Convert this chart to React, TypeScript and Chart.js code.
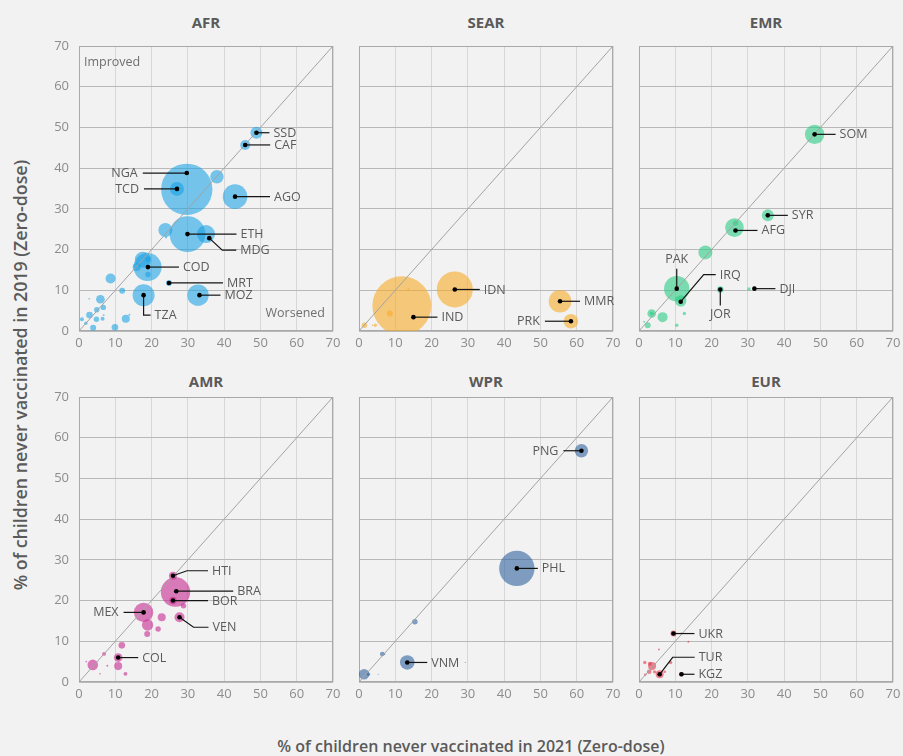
import React, { useEffect, useRef } from "react";
import { Chart, registerables } from "chart.js";

Chart.register(...registerables);

const FONT = '"Open Sans", "DejaVu Sans", sans-serif';
Chart.defaults.font.family = FONT;

type Pt = [number, number, number]; // [% zero-dose 2021, % zero-dose 2019, zero-dose children (thousands)]
type Note = { code: string; x: number; y: number; path: [number, number][]; side: "right" | "left" | "top" | "bottom" };

const AXIS_MIN = 0;
const AXIS_MAX = 70;
const AXIS_STEP = 10;

const AFR_POINTS: Pt[] = [
  [29.7, 34.8, 2050], [29.9, 23.8, 1000], [18.9, 15.7, 610], [43.0, 33.0, 470],
  [17.8, 8.8, 376], [32.8, 8.8, 356], [35.0, 23.8, 252], [17.6, 17.5, 199],
  [38.0, 37.9, 140], [23.8, 24.8, 152], [48.9, 48.7, 112], [45.8, 45.7, 78],
  [27.0, 34.9, 152], [27.0, 34.9, 20], [8.7, 12.9, 78], [11.9, 9.9, 28],
  [5.9, 7.8, 58], [6.7, 5.8, 23], [4.9, 5.2, 23], [12.9, 3.0, 50],
  [9.9, 0.9, 34], [3.9, 0.8, 28], [2.9, 3.9, 34], [4.8, 2.9, 23],
  [0.8, 2.9, 12], [1.9, 1.9, 9], [15.9, 15.7, 50], [19.0, 17.6, 23],
  [19.0, 13.9, 23], [24.0, 23.0, 4], [24.8, 11.8, 28], [13.9, 4.0, 3],
  [2.8, 7.9, 2], [6.8, 3.9, 3], [6.5, 3.0, 12],
];
const AFR_NOTES: Note[] = [
  { code: "SSD", x: 48.9, y: 48.7, path: [[13, 0]], side: "right" },
  { code: "CAF", x: 45.8, y: 45.7, path: [[25, 0]], side: "right" },
  { code: "NGA", x: 29.7, y: 38.8, path: [[-44, 0]], side: "left" },
  { code: "TCD", x: 27.0, y: 34.9, path: [[-33, 0]], side: "left" },
  { code: "AGO", x: 43.0, y: 33.0, path: [[35, 0]], side: "right" },
  { code: "ETH", x: 29.9, y: 23.8, path: [[49, 0]], side: "right" },
  { code: "MDG", x: 35.9, y: 22.8, path: [[13, 12], [27, 12]], side: "right" },
  { code: "COD", x: 19.0, y: 15.7, path: [[31, 0]], side: "right" },
  { code: "MRT", x: 24.8, y: 11.8, path: [[54, 0]], side: "right" },
  { code: "MOZ", x: 33.2, y: 8.8, path: [[21, 0]], side: "right" },
  { code: "TZA", x: 17.8, y: 8.8, path: [[0, 20], [7, 20]], side: "right" },
];

const SEAR_POINTS: Pt[] = [
  [11.8, 6.2, 2700], [26.4, 10.2, 1008], [55.4, 7.3, 397], [58.4, 2.4, 166],
  [8.5, 4.3, 28], [1.5, 1.4, 23], [4.5, 1.4, 9], [13.6, 10.3, 3], [3.7, 1.4, 2],
];
const SEAR_NOTES: Note[] = [
  { code: "IDN", x: 26.4, y: 10.2, path: [[25, 0]], side: "right" },
  { code: "IND", x: 15.0, y: 3.4, path: [[24, 0]], side: "right" },
  { code: "MMR", x: 55.4, y: 7.3, path: [[20, 0]], side: "right" },
  { code: "PRK", x: 58.4, y: 2.4, path: [[-26, 0]], side: "left" },
];

const EMR_POINTS: Pt[] = [
  [48.4, 48.3, 293], [35.5, 28.4, 112], [26.3, 25.4, 269], [26.6, 26.5, 23],
  [18.3, 19.3, 152], [10.4, 10.4, 502], [11.5, 7.4, 101], [22.4, 10.2, 34],
  [31.8, 10.4, 3], [30.3, 10.3, 9], [3.5, 4.3, 58], [3.5, 4.3, 12],
  [6.5, 3.4, 78], [12.5, 4.3, 9], [2.4, 1.4, 28], [10.4, 1.4, 9], [1.4, 2.3, 3],
];
const EMR_NOTES: Note[] = [
  { code: "SOM", x: 48.4, y: 48.3, path: [[21, 0]], side: "right" },
  { code: "SYR", x: 35.5, y: 28.4, path: [[20, 0]], side: "right" },
  { code: "AFG", x: 26.6, y: 24.7, path: [[22, 0]], side: "right" },
  { code: "PAK", x: 10.4, y: 10.4, path: [[0, -20]], side: "top" },
  { code: "IRQ", x: 11.5, y: 7.2, path: [[23, -27], [35, -27]], side: "right" },
  { code: "JOR", x: 22.4, y: 10.2, path: [[0, 16]], side: "bottom" },
  { code: "DJI", x: 31.8, y: 10.4, path: [[21, 0]], side: "right" },
];

const AMR_POINTS: Pt[] = [
  [26.6, 22.1, 672], [17.8, 17.1, 293], [25.9, 26.1, 50], [25.9, 20.0, 43],
  [27.7, 15.9, 78], [22.8, 15.9, 50], [18.9, 14.0, 101], [18.8, 11.8, 28],
  [21.8, 13.0, 23], [28.8, 18.7, 23], [11.8, 9.0, 34], [6.9, 6.9, 12],
  [10.8, 6.0, 58], [10.8, 3.9, 50], [3.8, 4.2, 87], [12.8, 2.0, 12],
  [7.8, 4.0, 3], [5.8, 2.0, 2], [2.0, 5.0, 2],
];
const AMR_NOTES: Note[] = [
  { code: "HTI", x: 25.9, y: 26.1, path: [[14, -5], [35, -5]], side: "right" },
  { code: "BRA", x: 26.8, y: 22.3, path: [[57, 0]], side: "right" },
  { code: "BOR", x: 25.9, y: 20.0, path: [[35, 0]], side: "right" },
  { code: "MEX", x: 17.8, y: 17.1, path: [[-20, 0]], side: "left" },
  { code: "VEN", x: 27.7, y: 15.9, path: [[14, 10], [29, 10]], side: "right" },
  { code: "COL", x: 10.8, y: 6.0, path: [[20, 0]], side: "right" },
];

const WPR_POINTS: Pt[] = [
  [61.3, 56.8, 140], [43.5, 27.9, 974], [13.3, 4.8, 166], [15.4, 14.8, 23],
  [6.4, 6.9, 16], [7.0, 6.9, 3], [1.4, 1.9, 87], [2.6, 1.9, 9],
  [29.3, 4.8, 1], [5.3, 1.9, 1],
];
const WPR_NOTES: Note[] = [
  { code: "PNG", x: 61.3, y: 56.8, path: [[-18, 0]], side: "left" },
  { code: "PHL", x: 43.5, y: 27.9, path: [[21, 0]], side: "right" },
  { code: "VNM", x: 13.3, y: 4.8, path: [[20, 0]], side: "right" },
];

const EUR_POINTS: Pt[] = [
  [9.5, 11.9, 28], [11.7, 1.9, 16], [5.7, 1.9, 50], [3.6, 3.9, 50],
  [2.8, 2.5, 16], [1.6, 4.8, 9], [8.7, 4.8, 9], [5.5, 8.0, 3],
  [13.6, 9.9, 3], [1.7, 1.8, 5], [4.3, 2.5, 8], [11.7, 11.9, 3],
  [7.1, 2.5, 5], [3.0, 4.5, 12],
];
const EUR_NOTES: Note[] = [
  { code: "UKR", x: 9.5, y: 11.9, path: [[21, 0]], side: "right" },
  { code: "TUR", x: 5.7, y: 1.9, path: [[13, -17], [35, -17]], side: "right" },
  { code: "KGZ", x: 11.7, y: 1.9, path: [[13, 0]], side: "right" },
];

type PanelSpec = {
  region: string;
  color: string;
  points: Pt[];
  notes: Note[];
  col: number;
  row: number;
  corners?: boolean;
};

const PANELS: PanelSpec[] = [
  { region: "AFR", color: "rgba(22,160,228,0.58)", points: AFR_POINTS, notes: AFR_NOTES, col: 0, row: 0, corners: true },
  { region: "SEAR", color: "rgba(247,170,40,0.6)", points: SEAR_POINTS, notes: SEAR_NOTES, col: 1, row: 0 },
  { region: "EMR", color: "rgba(40,204,130,0.6)", points: EMR_POINTS, notes: EMR_NOTES, col: 2, row: 0 },
  { region: "AMR", color: "rgba(200,42,145,0.6)", points: AMR_POINTS, notes: AMR_NOTES, col: 0, row: 1 },
  { region: "WPR", color: "rgba(47,99,159,0.6)", points: WPR_POINTS, notes: WPR_NOTES, col: 1, row: 1 },
  { region: "EUR", color: "rgba(225,55,75,0.6)", points: EUR_POINTS, notes: EUR_NOTES, col: 2, row: 1 },
];

// plot-area geometry
const COL_LEFT = [79, 359, 639];
const ROW_TOP = [46, 397];
const PLOT_W = 254;
const PLOT_H = 285;
const PAD_L = 40;
const PAD_T = 20;
const PAD_R = 14;
const PAD_B = 26;
const TITLE_Y = [22, 381];

const RADIUS_K = 0.567;

function makeOverlay(spec: PanelSpec) {
  return {
    id: "overlay",
    beforeDatasetsDraw(chart: any) {
      const { ctx, chartArea } = chart;
      ctx.save();
      ctx.strokeStyle = "#a9a9a9";
      ctx.lineWidth = 1;
      const l = Math.round(chartArea.left) + 0.5;
      const t = Math.round(chartArea.top) + 0.5;
      const r = Math.round(chartArea.right) - 0.5;
      const b = Math.round(chartArea.bottom) - 0.5;
      ctx.strokeRect(l, t, r - l, b - t);
      if (spec.corners) {
        ctx.fillStyle = "#6f6f6f";
        ctx.font = `12.5px ${FONT}`;
        ctx.textBaseline = "middle";
        ctx.textAlign = "left";
        ctx.fillText("Improved", chartArea.left + 5, chartArea.top + 16);
        ctx.textAlign = "right";
        ctx.fillText("Worsened", chartArea.right - 8, chartArea.bottom - 18);
      }
      ctx.restore();
    },
    afterDatasetsDraw(chart: any) {
      const { ctx } = chart;
      const xs = chart.scales.x;
      const ys = chart.scales.y;
      ctx.save();
      for (const n of spec.notes) {
        const px = xs.getPixelForValue(n.x);
        const py = ys.getPixelForValue(n.y);
        let ex = px;
        let ey = py;
        ctx.strokeStyle = "#151515";
        ctx.lineWidth = 1.2;
        ctx.beginPath();
        ctx.moveTo(px, py);
        for (const [dx, dy] of n.path) {
          ex = px + dx;
          ey = py + dy;
          ctx.lineTo(ex, ey);
        }
        ctx.stroke();
        ctx.fillStyle = "#000";
        ctx.beginPath();
        ctx.arc(px, py, 2.3, 0, Math.PI * 2);
        ctx.fill();
        ctx.fillStyle = "#5a5a5a";
        ctx.font = `12.5px ${FONT}`;
        if (n.side === "right") {
          ctx.textAlign = "left";
          ctx.textBaseline = "middle";
          ctx.fillText(n.code, ex + 4, ey + 0.5);
        } else if (n.side === "left") {
          ctx.textAlign = "right";
          ctx.textBaseline = "middle";
          ctx.fillText(n.code, ex - 5, ey + 0.5);
        } else if (n.side === "top") {
          ctx.textAlign = "center";
          ctx.textBaseline = "middle";
          ctx.fillText(n.code, ex, ey - 9);
        } else {
          ctx.textAlign = "center";
          ctx.textBaseline = "middle";
          ctx.fillText(n.code, ex, ey + 9);
        }
      }
      ctx.restore();
    },
  };
}

function Panel({ spec }: { spec: PanelSpec }) {
  const ref = useRef<HTMLCanvasElement>(null);
  const showY = spec.col === 0;
  const width = PAD_L + PLOT_W + PAD_R;
  const height = PAD_T + PLOT_H + PAD_B;

  useEffect(() => {
    const chart = new Chart(ref.current as HTMLCanvasElement, {
      type: "bubble",
      data: {
        datasets: [
          {
            type: "line",
            data: [
              { x: AXIS_MIN, y: AXIS_MIN },
              { x: AXIS_MAX, y: AXIS_MAX },
            ],
            borderColor: "#a3a3a3",
            borderWidth: 1,
            pointRadius: 0,
            order: 0,
          } as any,
          {
            type: "bubble",
            data: spec.points.map(([x, y, s]) => ({ x, y, r: Math.sqrt(s) * RADIUS_K })),
            backgroundColor: spec.color,
            borderWidth: 0,
            clip: 0,
            order: 1,
          },
        ],
      },
      options: {
        animation: false,
        responsive: false,
        devicePixelRatio: 1,
        events: [],
        layout: { autoPadding: false, padding: { top: PAD_T, right: PAD_R, left: 0, bottom: 0 } },
        plugins: { legend: { display: false }, tooltip: { enabled: false }, title: { display: false } },
        scales: {
          x: {
            type: "linear",
            min: AXIS_MIN,
            max: AXIS_MAX,
            ticks: { stepSize: AXIS_STEP, color: "#8c8c8c", font: { size: 13 }, padding: 4, maxRotation: 0 },
            grid: { color: "#d7d7d7", drawTicks: false, lineWidth: 1 },
            border: { display: false },
            afterFit: (s: any) => {
              s.height = PAD_B;
            },
          },
          y: {
            type: "linear",
            min: AXIS_MIN,
            max: AXIS_MAX,
            ticks: { stepSize: AXIS_STEP, color: "#8c8c8c", font: { size: 13 }, padding: 10, display: showY },
            grid: { color: "#b9b9b9", drawTicks: false, lineWidth: 1 },
            border: { display: false },
            afterFit: (s: any) => {
              s.width = PAD_L;
            },
          },
        },
      },
      plugins: [makeOverlay(spec)],
    } as any);
    return () => chart.destroy();
  }, []);

  return (
    <canvas
      ref={ref}
      width={width}
      height={height}
      style={{
        position: "absolute",
        left: COL_LEFT[spec.col] - PAD_L,
        top: ROW_TOP[spec.row] - PAD_T,
        width,
        height,
      }}
    />
  );
}

export default function App() {
  return (
    <div
      style={{
        position: "absolute",
        left: 0,
        top: 0,
        width: 903,
        height: 756,
        background: "#f2f2f2",
        overflow: "hidden",
        fontFamily: FONT,
      }}
    >
      {PANELS.map((p) => (
        <div
          key={p.region + "-t"}
          style={{
            position: "absolute",
            left: COL_LEFT[p.col],
            width: PLOT_W,
            top: TITLE_Y[p.row] - 10,
            height: 20,
            lineHeight: "20px",
            textAlign: "center",
            fontWeight: 700,
            fontSize: 15,
            color: "#5a5a5a",
          }}
        >
          {p.region}
        </div>
      ))}
      {PANELS.map((p) => (
        <Panel key={p.region} spec={p} />
      ))}
      <div
        style={{
          position: "absolute",
          left: 20,
          top: 375,
          transform: "translate(-50%, -50%) rotate(-90deg)",
          whiteSpace: "nowrap",
          fontSize: 17.8,
          fontWeight: 600,
          color: "#5a5a5a",
        }}
      >
        % of children never vaccinated in 2019 (Zero-dose)
      </div>
      <div
        style={{
          position: "absolute",
          left: 471,
          top: 746,
          transform: "translate(-50%, -50%)",
          whiteSpace: "nowrap",
          fontSize: 16,
          fontWeight: 600,
          color: "#5a5a5a",
        }}
      >
        % of children never vaccinated in 2021 (Zero-dose)
      </div>
    </div>
  );
}
